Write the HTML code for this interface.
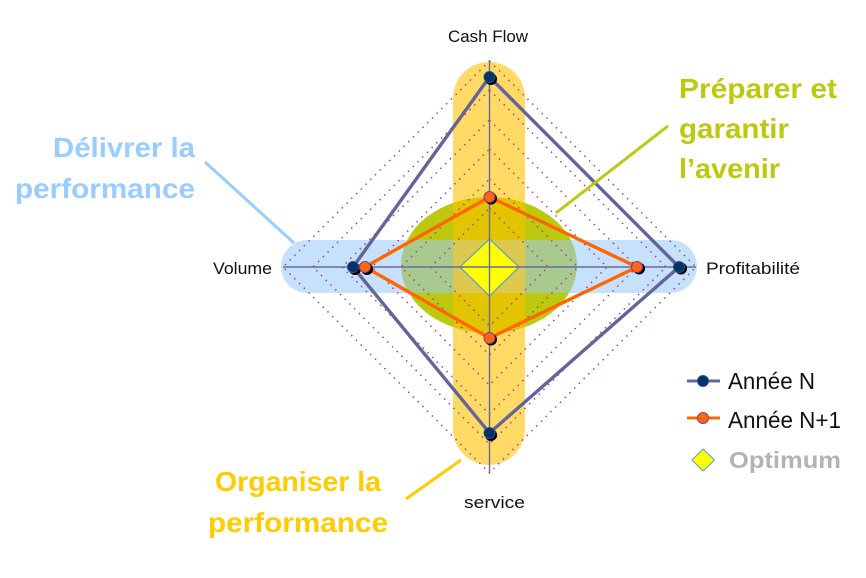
<!DOCTYPE html>
<html><head><meta charset="utf-8"><style>html,body{margin:0;padding:0;background:#fff}svg{display:block}text{font-family:"Liberation Sans",sans-serif}</style></head><body>
<svg width="866" height="578" viewBox="0 0 866 578" xmlns="http://www.w3.org/2000/svg">
<defs>
<clipPath id="cb"><rect x="281" y="240" width="416" height="53" rx="26.5"/></clipPath>
<clipPath id="cy"><rect x="453" y="62" width="72" height="403" rx="36"/></clipPath>
<clipPath id="ce"><ellipse cx="489" cy="265" rx="88" ry="68"/></clipPath>
</defs>
<ellipse cx="489" cy="265" rx="88" ry="68" fill="#bcc90f"/>
<rect x="281" y="240" width="416" height="53" rx="26.5" fill="#c5e1fb"/>
<g clip-path="url(#ce)"><rect x="281" y="240" width="416" height="53" fill="#a9ca8f"/></g>
<rect x="453" y="62" width="72" height="403" rx="36" fill="#ffdb66"/>
<g clip-path="url(#cy)">
<ellipse cx="489" cy="265" rx="88" ry="68" fill="#e2c400"/>
<rect x="281" y="240" width="416" height="53" fill="#ddc94f"/>
</g>
<path d="M489.5 239 L519 267 L489.5 296 L460 267Z" fill="#ffff00" stroke="#5b9bd5" stroke-width="1.2"/>
<g fill="none" stroke="#a6457f" stroke-width="1.5" stroke-dasharray="1.5 5.2">
<path d="M489.5 208 L548 267 L489.5 326 L431 267Z"/>
<path d="M489.5 179 L578 267 L489.5 355 L401 267Z"/>
<path d="M489.5 149 L607 267 L489.5 385 L372 267Z"/>
<path d="M489.5 120 L637 267 L489.5 414 L342 267Z"/>
<path d="M489.5 90 L666 267 L489.5 444 L313 267Z"/>
<path d="M489.5 61 L696 267 L489.5 473 L283 267Z"/>
</g>
<path d="M489.5 60V473M283 267H696" stroke="#6a6a9c" stroke-width="1.4"/>
<path d="M489.5 77L679 267L489.5 433L353 267Z" fill="none" stroke="#64649c" stroke-width="3.4"/>
<path d="M489.5 197L637 267L489.5 338L365 267Z" fill="none" stroke="#ff6600" stroke-width="3.4"/>
<g fill="#000">
<circle cx="491" cy="79" r="6"/><circle cx="681" cy="268.500" r="6"/><circle cx="491" cy="435" r="6"/><circle cx="355" cy="269" r="6"/>
<circle cx="491" cy="198.500" r="6"/><circle cx="639" cy="268.500" r="6"/><circle cx="491" cy="339.500" r="6"/><circle cx="367" cy="269" r="6"/>
</g>
<g fill="#003366" stroke="#3a4a8c" stroke-width="1">
<circle cx="489.500" cy="77" r="5.500"/><circle cx="679" cy="267" r="5.500"/><circle cx="489.500" cy="433" r="5.500"/><circle cx="353" cy="267" r="5.500"/>
</g>
<g fill="#ff6611" stroke="#8e3a7c" stroke-width="1">
<circle cx="489.500" cy="197" r="5.500"/><circle cx="637" cy="267" r="5.500"/><circle cx="489.500" cy="338" r="5.500"/><circle cx="365" cy="267" r="5.500"/>
</g>
<path d="M294 243L205 162" stroke="#99ccff" stroke-width="3"/>
<path d="M556 213L668 126" stroke="#bcc90f" stroke-width="3"/>
<path d="M461 460L406 499" stroke="#ffcc00" stroke-width="3"/>
<g font-size="17" fill="#111">
<text x="448" y="42" textLength="80" lengthAdjust="spacingAndGlyphs">Cash Flow</text>
<text x="213" y="274" textLength="59" lengthAdjust="spacingAndGlyphs">Volume</text>
<text x="706" y="274" textLength="94" lengthAdjust="spacingAndGlyphs">Profitabilité</text>
<text x="464" y="508" textLength="61" lengthAdjust="spacingAndGlyphs">service</text>
</g>
<g font-size="28" font-weight="bold">
<g fill="#99ccff">
<text x="53" y="157" textLength="142" lengthAdjust="spacingAndGlyphs">Délivrer la</text>
<text x="15" y="198" textLength="180" lengthAdjust="spacingAndGlyphs">performance</text>
</g>
<g fill="#bcc90f">
<text x="679" y="98" textLength="158" lengthAdjust="spacingAndGlyphs">Préparer et</text>
<text x="679" y="138" textLength="110" lengthAdjust="spacingAndGlyphs">garantir</text>
<text x="679" y="178" textLength="101" lengthAdjust="spacingAndGlyphs">l’avenir</text>
</g>
<g fill="#ffcc00">
<text x="215" y="491" textLength="166" lengthAdjust="spacingAndGlyphs">Organiser la</text>
<text x="208" y="532" textLength="180" lengthAdjust="spacingAndGlyphs">performance</text>
</g>
</g>
<path d="M687 381H720" stroke="#64649c" stroke-width="3"/>
<circle cx="703" cy="381" r="5.500" fill="#003366" stroke="#3a4a8c"/>
<path d="M687 418H720" stroke="#ff6600" stroke-width="3"/>
<circle cx="703" cy="418" r="5.500" fill="#ff6611" stroke="#8e3a7c"/>
<path d="M703 449L714.500 460L703 471L692 460Z" fill="#ffff00" stroke="#5b9bd5"/>
<g font-size="23">
<text x="728" y="389" fill="#111" textLength="87" lengthAdjust="spacingAndGlyphs">Année N</text>
<text x="728" y="428" fill="#111" textLength="113" lengthAdjust="spacingAndGlyphs">Année N+1</text>
<text x="729" y="468" fill="#b3b3b3" font-weight="bold" textLength="112" lengthAdjust="spacingAndGlyphs">Optimum</text>
</g>
</svg>
</body></html>
